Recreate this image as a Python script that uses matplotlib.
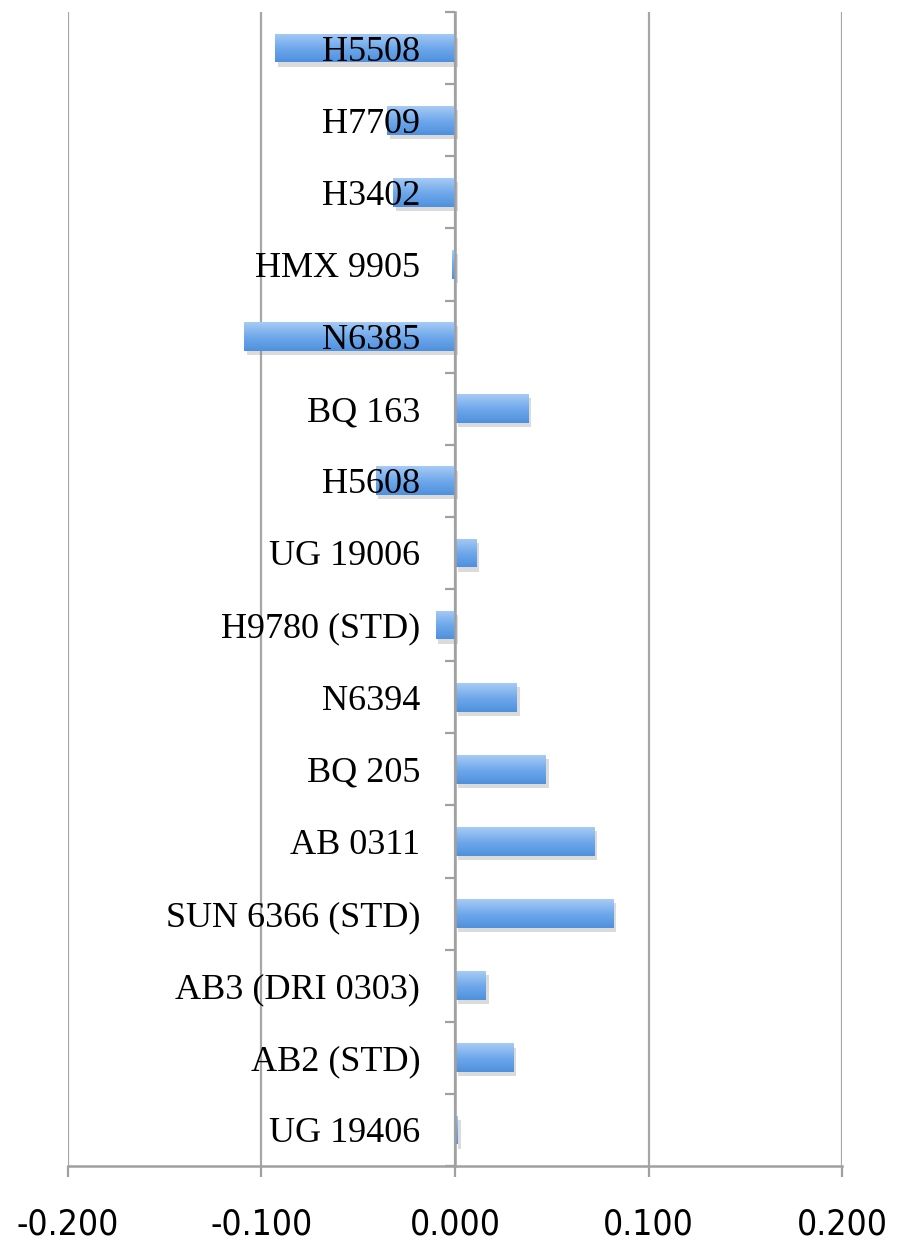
import matplotlib
matplotlib.use("Agg")
import matplotlib.pyplot as plt
import matplotlib.patheffects as pe
from matplotlib import font_manager
import numpy as np
from matplotlib.colors import LinearSegmentedColormap

# Data (top to bottom as shown)
categories = ["H5508", "H7709", "H3402", "HMX 9905", "N6385", "BQ 163", "H5608",
              "UG 19006", "H9780 (STD)", "N6394", "BQ 205", "AB 0311",
              "SUN 6366 (STD)", "AB3 (DRI 0303)", "AB2 (STD)", "UG 19406"]
values = [-0.093, -0.035, -0.032, -0.0015, -0.109, 0.038, -0.041,
          0.011, -0.010, 0.032, 0.047, 0.072,
          0.082, 0.016, 0.030, 0.0015]
xticks = [-0.2, -0.1, 0.0, 0.1, 0.2]
xticklabels = ["-0.200", "-0.100", "0.000", "0.100", "0.200"]

# pick a narrow, regular-weight sans font if available
def _is_regular(f):
    w = f.weight
    try:
        w = int(w)
    except (TypeError, ValueError):
        w = {"normal": 400, "regular": 400, "book": 400}.get(str(w).lower(), 700)
    return w <= 450 and f.style == "normal"

narrow = None
for f in font_manager.fontManager.ttflist:
    nm = f.name.lower()
    if not _is_regular(f) or "mono" in nm or "serif" in nm:
        continue
    if ("narrow" in nm or "condensed" in nm) and "sans" in nm:
        narrow = f
        break
    if f.stretch in ("condensed", "semi-condensed") and "sans" in nm:
        narrow = f
        break
if narrow is not None:
    xfont = dict(fontproperties=font_manager.FontProperties(fname=narrow.fname, size=25.5))
else:
    xfont = dict(family=["Liberation Sans", "DejaVu Sans"], fontsize=24)

fig = plt.figure(figsize=(9.07, 12.45), dpi=100)
ax = fig.add_axes([68/907, 1 - 1166/1245, (842-68)/907, (1166-12)/1245])

n = len(categories)
ypos = np.arange(n)[::-1]  # top category at highest y

bars = ax.barh(ypos, values, height=0.4, color="#6fa6e6", zorder=1,
               path_effects=[pe.SimplePatchShadow(offset=(2, -3), shadow_rgbFace="#888888", alpha=0.3),
                             pe.Normal()])

cmap = LinearSegmentedColormap.from_list("blu", ["#4f90dd", "#70a9eb", "#a6cbf6"])
grad = np.linspace(0, 1, 64).reshape(-1, 1)
for b in bars:
    x0, y0, w, h = b.get_x(), b.get_y(), b.get_width(), b.get_height()
    im = ax.imshow(grad, extent=[x0, x0 + w, y0, y0 + h], origin="lower",
                   aspect="auto", cmap=cmap, zorder=1.1, interpolation="bilinear")
    im.set_clip_path(b)

ax.set_xlim(-0.2, 0.2)
ax.set_ylim(-0.5, n - 0.5)

# grid
ax.set_axisbelow(True)
ax.xaxis.grid(True, color="#a6a6a6", linewidth=1.6)
ax.yaxis.grid(False)

# spines
for s in ["top", "right"]:
    ax.spines[s].set_visible(False)
ax.spines["left"].set_position(("data", 0))
ax.spines["left"].set_color("#a0a0a0")
ax.spines["left"].set_linewidth(1.8)
ax.spines["bottom"].set_color("#a0a0a0")
ax.spines["bottom"].set_linewidth(1.8)

# x ticks
ax.set_xticks(xticks)
ax.set_xticklabels(xticklabels, **xfont)
ax.tick_params(axis="x", direction="out", length=8, width=1.6, color="#a0a0a0", pad=22)

# y ticks: labels at centers, tick marks at boundaries
ax.set_yticks(ypos)
ax.set_yticklabels(categories, family=["Liberation Serif", "DejaVu Serif"], fontsize=26)
ax.tick_params(axis="y", which="major", length=0, pad=25)
ax.set_yticks(np.arange(-0.5, n, 1.0), minor=True)
ax.tick_params(axis="y", which="minor", direction="out", length=7, width=1.6, color="#a0a0a0")

# labels must sit on top of the bars
ax.yaxis.set_zorder(5)
ax.spines["left"].set_zorder(6)

fig.savefig("out.png", dpi=100)
